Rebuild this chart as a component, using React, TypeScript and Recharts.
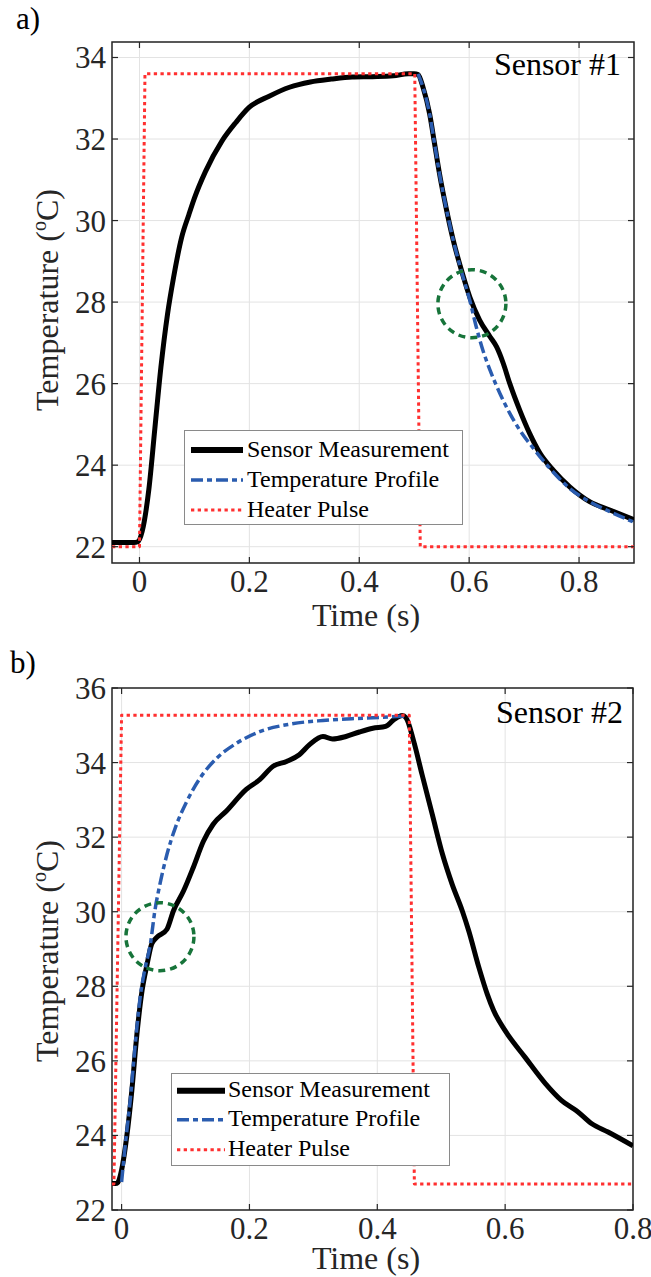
import React from "react";
import {
  CartesianGrid,
  Customized,
  Legend,
  Line,
  LineChart,
  ReferenceArea,
  ReferenceDot,
  XAxis,
  YAxis,
} from "recharts";

type Pair = [number, number];
type Pt = { t: number; v: number };

// ---- panel a) Sensor #1 : [time (s), temperature (°C)]
const s1Measured: Pair[] = [
  [-0.05, 22.1], [-0.03, 22.1], [-0.01, 22.1], [-0.003, 22.12], [0.005, 22.38],
  [0.017, 23.4], [0.028, 24.9], [0.039, 26.4], [0.051, 27.7], [0.062, 28.6],
  [0.077, 29.6], [0.09, 30.15], [0.1, 30.55], [0.12, 31.2], [0.15, 31.95],
  [0.175, 32.4], [0.2, 32.78], [0.236, 33.05], [0.273, 33.27], [0.311, 33.4],
  [0.349, 33.47], [0.387, 33.52], [0.424, 33.53], [0.462, 33.55], [0.489, 33.6],
  [0.5, 33.6], [0.507, 33.58], [0.516, 33.27], [0.528, 32.62], [0.537, 31.89],
  [0.546, 31.15], [0.559, 30.25], [0.571, 29.52], [0.586, 28.78], [0.601, 28.13],
  [0.619, 27.56], [0.638, 27.15], [0.65, 26.9], [0.662, 26.5], [0.674, 26.0],
  [0.692, 25.35], [0.71, 24.78], [0.729, 24.29], [0.753, 23.88], [0.783, 23.47],
  [0.82, 23.1], [0.856, 22.9], [0.9, 22.66],
];
const s1Profile: Pair[] = [
  [0.507, 33.6], [0.516, 33.27], [0.528, 32.62], [0.537, 31.89], [0.546, 31.15],
  [0.559, 30.25], [0.571, 29.52], [0.586, 28.75], [0.601, 28.05], [0.613, 27.39],
  [0.625, 26.82], [0.638, 26.33], [0.656, 25.76], [0.674, 25.27], [0.692, 24.86],
  [0.717, 24.41], [0.747, 23.92], [0.783, 23.43], [0.82, 23.1], [0.856, 22.86],
  [0.9, 22.6],
];
const s1Heater: Pair[] = [
  [-0.05, 22.0], [0.0, 22.0], [0.01, 33.6], [0.501, 33.6], [0.511, 22.0], [0.9, 22.0],
];

// ---- panel b) Sensor #2
const s2Measured: Pair[] = [
  [-0.015, 22.71], [-0.007, 22.72], [0.0, 23.07], [0.008, 23.96], [0.016, 25.2],
  [0.024, 26.72], [0.032, 27.88], [0.04, 28.6], [0.047, 29.13], [0.055, 29.31],
  [0.071, 29.53], [0.081, 30.02], [0.097, 30.56], [0.112, 31.18], [0.128, 31.89],
  [0.143, 32.34], [0.164, 32.7], [0.195, 33.28], [0.216, 33.54], [0.237, 33.9],
  [0.258, 34.03], [0.278, 34.21], [0.294, 34.48], [0.315, 34.7], [0.33, 34.63],
  [0.351, 34.7], [0.372, 34.82], [0.393, 34.92], [0.413, 34.97], [0.426, 35.15],
  [0.439, 35.26], [0.445, 35.2], [0.457, 34.57], [0.47, 33.68], [0.486, 32.61],
  [0.502, 31.54], [0.517, 30.74], [0.533, 30.02], [0.543, 29.49], [0.559, 28.5],
  [0.572, 27.79], [0.582, 27.35], [0.6, 26.81], [0.631, 26.1], [0.663, 25.39],
  [0.688, 24.94], [0.714, 24.63], [0.735, 24.32], [0.761, 24.09], [0.8, 23.72],
];
const s2Profile: Pair[] = [
  [0.0, 22.75], [0.006, 23.78], [0.014, 25.03], [0.021, 26.37], [0.029, 27.7],
  [0.037, 28.5], [0.045, 29.13], [0.052, 30.02], [0.06, 30.74], [0.071, 31.54],
  [0.084, 32.25], [0.102, 32.96], [0.123, 33.59], [0.149, 34.12], [0.18, 34.52],
  [0.216, 34.83], [0.263, 35.03], [0.315, 35.13], [0.377, 35.19], [0.439, 35.24],
  [0.45, 35.25],
];
const s2Heater: Pair[] = [
  [-0.015, 22.7], [-0.012, 22.7], [0.0, 35.27], [0.45, 35.27], [0.458, 22.7], [0.8, 22.7],
];

const s1TimeTicks = [0, 0.2, 0.4, 0.6, 0.8];
const s1TempTicks = [22, 24, 26, 28, 30, 32, 34];
const s2TimeTicks = [0, 0.2, 0.4, 0.6, 0.8];
const s2TempTicks = [22, 24, 26, 28, 30, 32, 34, 36];

const FONT = '"Liberation Serif", "Times New Roman", Times, serif';
const INK = "#262626";
const GREEN = "#17743a";

const SERIES = [
  { name: "Sensor Measurement", color: "#000000", width: 5, dash: undefined as string | undefined },
  { name: "Temperature Profile", color: "#2a5caf", width: 3.5, dash: "12 4 5 4" },
  { name: "Heater Pulse", color: "#ff3030", width: 3, dash: "3.3 3.4" },
];

const toPts = (a: Pair[]): Pt[] => a.map(([t, v]) => ({ t, v }));
const serif = (size: number) => ({ fontFamily: FONT, fontSize: size });

function XTick(props: any) {
  const { x, y, payload, top } = props;
  return (
    <g>
      <line x1={x} x2={x} y1={y} y2={y - 6} stroke={INK} strokeWidth={1.2} />
      <line x1={x} x2={x} y1={top} y2={top + 6} stroke={INK} strokeWidth={1.2} />
      <text x={x} y={y + 29} textAnchor="middle" style={serif(31)} fill={INK}>
        {String(payload.value)}
      </text>
    </g>
  );
}

function YTick(props: any) {
  const { x, y, payload, right } = props;
  return (
    <g>
      <line x1={x} x2={x + 6} y1={y} y2={y} stroke={INK} strokeWidth={1.2} />
      <line x1={right - 6} x2={right} y1={y} y2={y} stroke={INK} strokeWidth={1.2} />
      <text x={x - 6} y={y + 11} textAnchor="end" style={serif(31)} fill={INK}>
        {String(payload.value)}
      </text>
    </g>
  );
}

function YTitle({ midY }: { midY: number }) {
  return (
    <text
      x={58}
      y={midY}
      transform={`rotate(-90, 58, ${midY})`}
      textAnchor="middle"
      style={serif(32)}
      fill={INK}
    >
      Temperature (<tspan dy={-12} style={{ fontSize: 20 }}>o</tspan>
      <tspan dy={12}>C)</tspan>
    </text>
  );
}

function XTitle({ baseY }: { baseY: number }) {
  return (
    <text x={366} y={baseY} textAnchor="middle" style={serif(32)} fill={INK}>
      Time (s)
    </text>
  );
}

function Notes({ panel, sensor, sx, sy, px, py }: any) {
  return (
    <g>
      <text x={sx} y={sy} textAnchor="end" style={serif(32)} fill="#000">
        {sensor}
      </text>
      <text x={px} y={py} style={serif(31)} fill="#000">
        {panel}
      </text>
    </g>
  );
}

function LegendBox({ sampleX, sampleW, textX, rowH, padTop }: any) {
  return (
    <div
      style={{
        width: "100%",
        height: "100%",
        boxSizing: "border-box",
        border: "1px solid #8a8a8a",
        background: "#fff",
        paddingTop: padTop,
        fontFamily: FONT,
        fontSize: 24,
        color: "#000",
      }}
    >
      {SERIES.map((s) => (
        <div key={s.name} style={{ position: "relative", height: rowH, lineHeight: `${rowH}px` }}>
          <svg
            width={sampleW}
            height={rowH}
            style={{ position: "absolute", left: sampleX - 1, top: 0 }}
          >
            <line
              x1={0}
              x2={sampleW}
              y1={rowH / 2 + 1}
              y2={rowH / 2 + 1}
              stroke={s.color}
              strokeWidth={s.name === "Sensor Measurement" ? 6 : s.width}
              strokeDasharray={s.dash}
            />
          </svg>
          <span style={{ position: "absolute", left: textX - 1, top: 0, whiteSpace: "nowrap" }}>
            {s.name}
          </span>
        </div>
      ))}
    </div>
  );
}

type PanelProps = {
  height: number;
  top: number;
  right: number;
  xAxisH: number;
  xDomain: [number, number];
  yDomain: [number, number];
  xTicks: number[];
  yTicks: number[];
  measured: Pair[];
  profile: Pair[];
  heater: Pair[];
  circle: [number, number];
  legend: { left: number; top: number; width: number; height: number; sampleX: number; sampleW: number; textX: number; rowH: number; padTop: number };
  yTitleMid: number;
  xTitleBase: number;
  panel: string;
  sensor: string;
  sx: number;
  sy: number;
  px: number;
  py: number;
};

function Panel(p: PanelProps) {
  const plotRight = 651 - p.right;
  const lines = [p.measured, p.profile, p.heater];
  return (
    <LineChart width={651} height={p.height} margin={{ top: p.top, right: p.right, left: 0, bottom: 0 }}>
      <CartesianGrid stroke="#e3e3e3" strokeWidth={1} />
      <XAxis
        type="number"
        dataKey="t"
        domain={p.xDomain}
        ticks={p.xTicks}
        allowDataOverflow
        height={p.xAxisH}
        axisLine={false}
        tickLine={false}
        tickSize={0}
        tickMargin={0}
        interval={0}
        tick={(props: any) => <XTick {...props} top={p.top} />}
        label={<XTitle baseY={p.xTitleBase} />}
      />
      <YAxis
        type="number"
        dataKey="v"
        domain={p.yDomain}
        ticks={p.yTicks}
        allowDataOverflow
        width={112}
        axisLine={false}
        tickLine={false}
        tickSize={0}
        tickMargin={0}
        interval={0}
        tick={(props: any) => <YTick {...props} right={plotRight} />}
        label={<YTitle midY={p.yTitleMid} />}
      />
      {SERIES.map((s, i) => (
        <Line
          key={s.name}
          name={s.name}
          data={toPts(lines[i])}
          dataKey="v"
          type={i === 2 ? "linear" : "monotone"}
          stroke={s.color}
          strokeWidth={s.width}
          strokeDasharray={s.dash}
          strokeLinejoin="round"
          dot={false}
          activeDot={false}
          isAnimationActive={false}
        />
      ))}
      <ReferenceDot
        x={p.circle[0]}
        y={p.circle[1]}
        r={34}
        fill="none"
        stroke={GREEN}
        strokeWidth={3.5}
        strokeDasharray="7 5"
      />
      <ReferenceArea
        x1={p.xDomain[0]}
        x2={p.xDomain[1]}
        y1={p.yDomain[0]}
        y2={p.yDomain[1]}
        fill="none"
        fillOpacity={0}
        stroke={INK}
        strokeWidth={1.5}
      />
      <Legend
        layout="vertical"
        align="center"
        verticalAlign="middle"
        wrapperStyle={{ left: p.legend.left, top: p.legend.top, width: p.legend.width, height: p.legend.height }}
        content={() => <LegendBox {...p.legend} />}
      />
      <Customized
        component={<Notes panel={p.panel} sensor={p.sensor} sx={p.sx} sy={p.sy} px={p.px} py={p.py} />}
      />
    </LineChart>
  );
}

export default function App() {
  return (
    <div style={{ position: "absolute", left: 0, top: 0, width: 651, height: 1277, background: "#fff" }}>
      <div style={{ position: "absolute", left: 0, top: 0 }}>
        <Panel
          height={640}
          top={42}
          right={17}
          xAxisH={77}
          xDomain={[-0.05, 0.9]}
          yDomain={[21.6, 34.38]}
          xTicks={s1TimeTicks}
          yTicks={s1TempTicks}
          measured={s1Measured}
          profile={s1Profile}
          heater={s1Heater}
          circle={[0.605, 27.96]}
          legend={{ left: 184, top: 430, width: 279, height: 95, sampleX: 7, sampleW: 52, textX: 63, rowH: 30, padTop: 3 }}
          yTitleMid={300}
          xTitleBase={626}
          panel="a)"
          sensor="Sensor #1"
          sx={621}
          sy={75}
          px={16}
          py={29}
        />
      </div>
      <div style={{ position: "absolute", left: 0, top: 640 }}>
        <Panel
          height={637}
          top={48}
          right={18}
          xAxisH={67}
          xDomain={[-0.015, 0.8]}
          yDomain={[22, 36]}
          xTicks={s2TimeTicks}
          yTicks={s2TempTicks}
          measured={s2Measured}
          profile={s2Profile}
          heater={s2Heater}
          circle={[0.06, 29.33]}
          legend={{ left: 171, top: 433, width: 279, height: 93, sampleX: 6, sampleW: 48, textX: 57, rowH: 29.5, padTop: 0.5 }}
          yTitleMid={311}
          xTitleBase={629}
          panel="b)"
          sensor="Sensor #2"
          sx={623}
          sy={83}
          px={10}
          py={33}
        />
      </div>
    </div>
  );
}
